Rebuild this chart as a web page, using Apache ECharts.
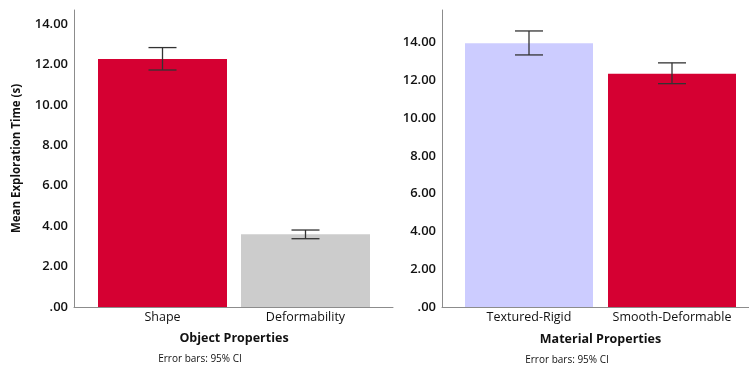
<!DOCTYPE html>
<html>
<head>
<meta charset="utf-8">
<script src="https://cdn.jsdelivr.net/npm/echarts@6/dist/echarts.min.js"></script>
<style>
  html, body { margin: 0; padding: 0; background: #fff; }
  #chart { width: 749px; height: 369px; }
</style>
</head>
<body>
<div id="chart"></div>
<script>
// Panel 1: object properties
const objectCategories = ['Shape', 'Deformability'];
const objectMeans = [12.28, 3.60];
const objectCILow = [11.73, 3.38];
const objectCIHigh = [12.84, 3.81];
const objectColors = ['#D50032', '#CCCCCC'];

// Panel 2: material properties
const materialCategories = ['Textured-Rigid', 'Smooth-Deformable'];
const materialMeans = [13.97, 12.36];
const materialCILow = [13.35, 11.83];
const materialCIHigh = [14.62, 12.93];
const materialColors = ['#CCCCFF', '#D50032'];

const yTickValues = [0, 2, 4, 6, 8, 10, 12, 14];

const FONT = '"Open Sans", "DejaVu Sans", sans-serif';
const AXIS_GRAY = '#8c8c8c';
const TEXT = '#111';

const fmt = v => (v === 0 ? '.00' : v.toFixed(2));

function errorSeries(xIdx, yIdx, low, high) {
  return {
    type: 'custom',
    xAxisIndex: xIdx,
    yAxisIndex: yIdx,
    z: 5,
    silent: true,
    data: low.map((l, i) => [i, l, high[i]]),
    renderItem: function (params, api) {
      const lo = api.coord([api.value(0), api.value(1)]);
      const hi = api.coord([api.value(0), api.value(2)]);
      const cap = 14;
      const style = { stroke: '#333', lineWidth: 1.3 };
      return {
        type: 'group',
        children: [
          { type: 'line', shape: { x1: lo[0], y1: lo[1], x2: hi[0], y2: hi[1] }, style },
          { type: 'line', shape: { x1: lo[0] - cap, y1: lo[1], x2: lo[0] + cap, y2: lo[1] }, style },
          { type: 'line', shape: { x1: hi[0] - cap, y1: hi[1], x2: hi[0] + cap, y2: hi[1] }, style }
        ]
      };
    }
  };
}

function valueAxis(max, withName) {
  return {
    type: 'value', min: 0, max: max, interval: 2,
    axisLine: { show: true, lineStyle: { color: AXIS_GRAY, width: 1 } },
    axisTick: { show: false },
    splitLine: { show: false },
    axisLabel: {
      showMaxLabel: false, color: TEXT, fontFamily: FONT, fontSize: 13, fontWeight: 600, margin: 6,
      formatter: v => (yTickValues.indexOf(v) >= 0 ? fmt(v) : '')
    },
    name: withName ? 'Mean Exploration Time (s)' : '',
    nameLocation: 'middle',
    nameGap: 51,
    nameTextStyle: { color: TEXT, fontFamily: FONT, fontSize: 11.5, fontWeight: 'bold' }
  };
}

function categoryAxis(gridIndex, cats, title, gap) {
  return {
    gridIndex: gridIndex, type: 'category', data: cats,
    axisLine: { show: false }, axisTick: { show: false },
    axisLabel: { interval: 0, hideOverlap: false, color: TEXT, fontFamily: FONT, fontSize: 12.5, margin: 4 },
    name: title, nameLocation: 'middle', nameGap: gap,
    nameTextStyle: { color: TEXT, fontFamily: FONT, fontSize: 12.5, fontWeight: 'bold' }
  };
}

const leftMax = 14.7;
const rightMax = 15.73;

const option = {
  animation: false,
  backgroundColor: '#fff',
  grid: [
    { left: 74, top: 10, width: 319, height: 297 },
    { left: 91, top: 10, width: 286, height: 297 },
    { left: 442, top: 10, width: 307, height: 297 },
    { left: 457.5, top: 10, width: 286, height: 297 }
  ],
  xAxis: [
    { gridIndex: 0, type: 'category', data: [''], axisLine: { lineStyle: { color: AXIS_GRAY } }, axisTick: { show: false }, axisLabel: { show: false } },
    categoryAxis(1, objectCategories, 'Object Properties', 25),
    { gridIndex: 2, type: 'category', data: [''], axisLine: { lineStyle: { color: AXIS_GRAY } }, axisTick: { show: false }, axisLabel: { show: false } },
    categoryAxis(3, materialCategories, 'Material Properties', 26)
  ],
  yAxis: [
    Object.assign({ gridIndex: 0 }, valueAxis(leftMax, true)),
    { gridIndex: 1, type: 'value', min: 0, max: leftMax, show: false },
    Object.assign({ gridIndex: 2 }, valueAxis(rightMax, false)),
    { gridIndex: 3, type: 'value', min: 0, max: rightMax, show: false }
  ],
  series: [
    {
      type: 'bar', xAxisIndex: 1, yAxisIndex: 1, barWidth: 129,
      data: objectMeans.map((v, i) => ({ value: v, itemStyle: { color: objectColors[i] } }))
    },
    errorSeries(1, 1, objectCILow, objectCIHigh),
    {
      type: 'bar', xAxisIndex: 3, yAxisIndex: 3, barWidth: 128,
      data: materialMeans.map((v, i) => ({ value: v, itemStyle: { color: materialColors[i] } }))
    },
    errorSeries(3, 3, materialCILow, materialCIHigh)
  ],
  graphic: [
    { type: 'text', x: 200, y: 359, style: { text: 'Error bars: 95% CI', fill: TEXT, font: '10px ' + FONT, textAlign: 'center', textVerticalAlign: 'middle' } },
    { type: 'text', x: 567, y: 360, style: { text: 'Error bars: 95% CI', fill: TEXT, font: '10px ' + FONT, textAlign: 'center', textVerticalAlign: 'middle' } }
  ]
};

const chart = echarts.init(document.getElementById('chart'), null, { renderer: 'canvas' });
chart.setOption(option);
</script>
</body>
</html>
